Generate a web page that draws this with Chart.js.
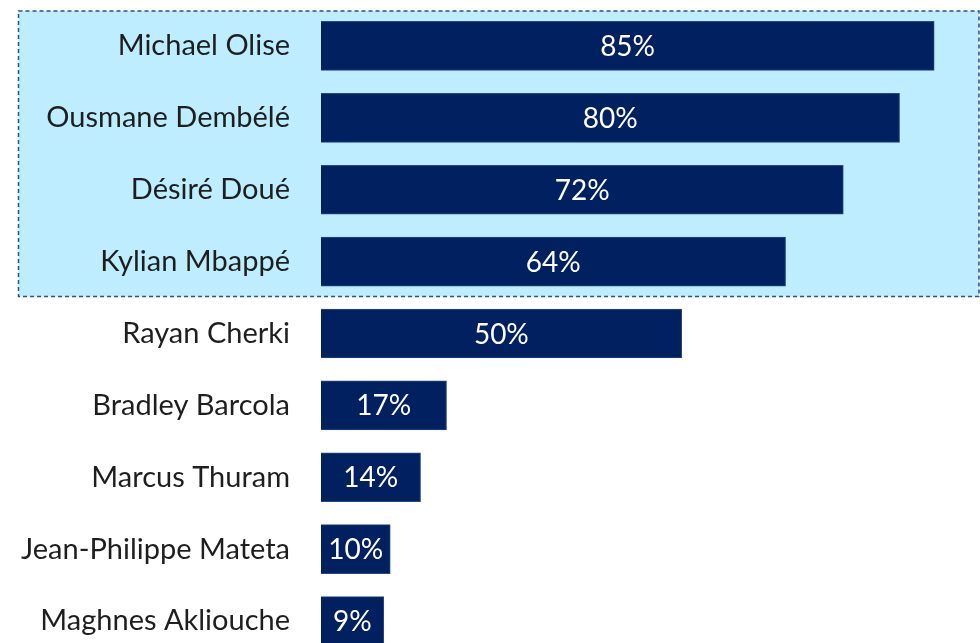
<!DOCTYPE html>
<html>
<head>
<meta charset="utf-8">
<script src="https://cdn.jsdelivr.net/npm/chart.js@4.4.1/dist/chart.umd.min.js"></script>
<style>
    html, body { margin: 0; padding: 0; background: #fff; overflow: hidden; }
    canvas { display: block; }
</style>
</head>
<body>
<canvas id="chart" width="980" height="668"></canvas>
<script>
const players = [
    'Michael Olise',
    'Ousmane Dembélé',
    'Désiré Doué',
    'Kylian Mbappé',
    'Rayan Cherki',
    'Bradley Barcola',
    'Marcus Thuram',
    'Jean-Philippe Mateta',
    'Maghnes Akliouche'
];
const shares = [85, 80.2, 72.4, 64.4, 50, 17.4, 13.8, 9.6, 8.7];
const highlightCount = 4;

const fontFamily = 'Lato, "Open Sans", sans-serif';

// light blue box behind the top rows, dashed edge
const highlightBox = {
    id: 'highlightBox',
    beforeDraw(chart) {
        const ctx = chart.ctx;
        const y = chart.scales.y;
        const step = y.getPixelForValue(1) - y.getPixelForValue(0);
        const top = y.getPixelForValue(0) - step / 2 + 1;
        const bottom = y.getPixelForValue(highlightCount - 1) + step / 2 - 1;
        const left = 18.5;
        const right = chart.width - 1;
        ctx.save();
        ctx.fillStyle = '#BDEDFF';
        ctx.fillRect(left, top, right - left, bottom - top);
        ctx.strokeStyle = '#2F4F85';
        ctx.lineWidth = 1.5;
        ctx.setLineDash([4, 3]);
        ctx.strokeRect(left, top, right - left, bottom - top);
        ctx.restore();
    }
};

// percentage text centred in each bar
const barLabels = {
    id: 'barLabels',
    afterDatasetsDraw(chart) {
        const ctx = chart.ctx;
        const meta = chart.getDatasetMeta(0);
        ctx.save();
        ctx.fillStyle = '#ffffff';
        ctx.font = '28px ' + fontFamily;
        ctx.textAlign = 'center';
        ctx.textBaseline = 'middle';
        meta.data.forEach((bar, i) => {
            const cx = (bar.base + bar.x) / 2;
            ctx.fillText(Math.round(shares[i]) + '%', cx, bar.y + 1);
        });
        ctx.restore();
    }
};

new Chart(document.getElementById('chart'), {
    type: 'bar',
    data: {
        labels: players,
        datasets: [{
            data: shares,
            backgroundColor: '#002060',
            borderColor: '#2A4A85',
            borderWidth: 1,
            barThickness: 49
        }]
    },
    options: {
        indexAxis: 'y',
        responsive: false,
        animation: false,
        layout: { padding: { top: 10, bottom: 11, left: 0, right: 0 } },
        plugins: {
            legend: { display: false },
            tooltip: { enabled: false }
        },
        scales: {
            x: {
                display: false,
                min: 0,
                max: 91.35
            },
            y: {
                grid: { display: false, drawTicks: false },
                border: { display: false },
                afterFit(scale) {
                    // fixed axis width, and no extra label padding top/bottom
                    scale.width = 321;
                    scale.paddingTop = 0;
                    scale.paddingBottom = 0;
                },
                ticks: {
                    padding: 31,
                    color: '#1e1e1e',
                    font: { family: fontFamily, size: 29 }
                }
            }
        }
    },
    plugins: [highlightBox, barLabels]
});
</script>
</body>
</html>
